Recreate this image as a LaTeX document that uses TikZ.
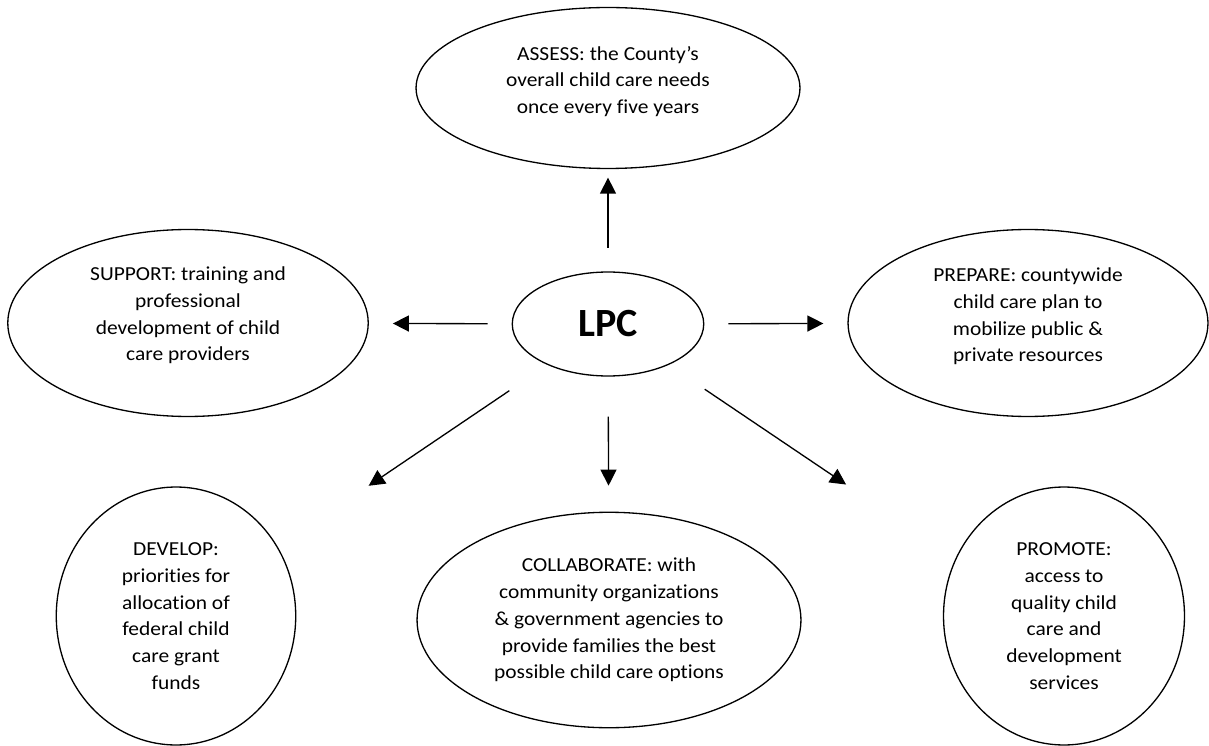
\documentclass[tikz,border=0pt]{standalone}
\usepackage{fontspec}
\setmainfont[Ligatures=NoCommon]{Carlito}
\newfontfamily\bubblefont[Ligatures=NoCommon,FakeStretch=1.08]{Carlito}
\usetikzlibrary{shapes,arrows.meta,positioning}

\begin{document}
\begin{tikzpicture}[x=0.02cm,y=-0.02cm,
    bubble/.style={draw,ellipse,line width=0.75pt,inner sep=0pt},
    txt/.style={align=center,font=\bubblefont\fontsize{11.3}{15.2}\selectfont},
    arr/.style={-{Triangle[length=0.32cm,width=0.32cm]},line width=0.75pt}]
    \useasboundingbox (0,0) rectangle (1209,746);

    % Centre
    \node[bubble,minimum width=3.83cm,minimum height=2.08cm,
        font=\fontsize{22.8}{26}\selectfont\bfseries] (lpc) at (608,324) {LPC};

    % Wide ellipses (text sits a little high)
    \node[bubble,minimum width=7.68cm,minimum height=3.22cm,
        label={[txt,yshift=0.13cm]center:{ASSESS: the County’s\\overall child care needs\\once every five years}}]
        (assess) at (608,88) {};
    \node[bubble,minimum width=7.21cm,minimum height=3.74cm,
        label={[txt,yshift=0.15cm]center:{SUPPORT: training and\\professional\\development of child\\care providers}}]
        (support) at (188,323) {};
    \node[bubble,minimum width=7.2cm,minimum height=3.74cm,
        label={[txt,yshift=0.13cm]center:{PREPARE: countywide\\child care plan to\\mobilize public \&\\private resources}}]
        (prepare) at (1028,323) {};

    % Bottom row
    \node[bubble,txt,minimum width=4.79cm,minimum height=5.16cm] (develop) at (176,616)
        {DEVELOP:\\priorities for\\allocation of\\federal child\\care grant\\funds};
    \node[bubble,txt,minimum width=7.68cm,minimum height=4.31cm] (collab) at (609,620)
        {COLLABORATE: with\\community organizations\\\& government agencies to\\provide families the best\\possible child care options};
    \node[bubble,txt,minimum width=4.82cm,minimum height=5.16cm] (promote) at (1064,616)
        {PROMOTE:\\access to\\quality child\\care and\\development\\services};

    % Arrows out of LPC
    \foreach \dst/\a/\b in {assess/0.47/0.17, support/0.48/0.48, prepare/0.48/0.48,
                            collab/0.8/0.52, develop/0.92/2.19, promote.152/0.87/2.64}
        \draw[arr,shorten <=\a cm,shorten >=\b cm] (lpc) -- (\dst);
\end{tikzpicture}
\end{document}
